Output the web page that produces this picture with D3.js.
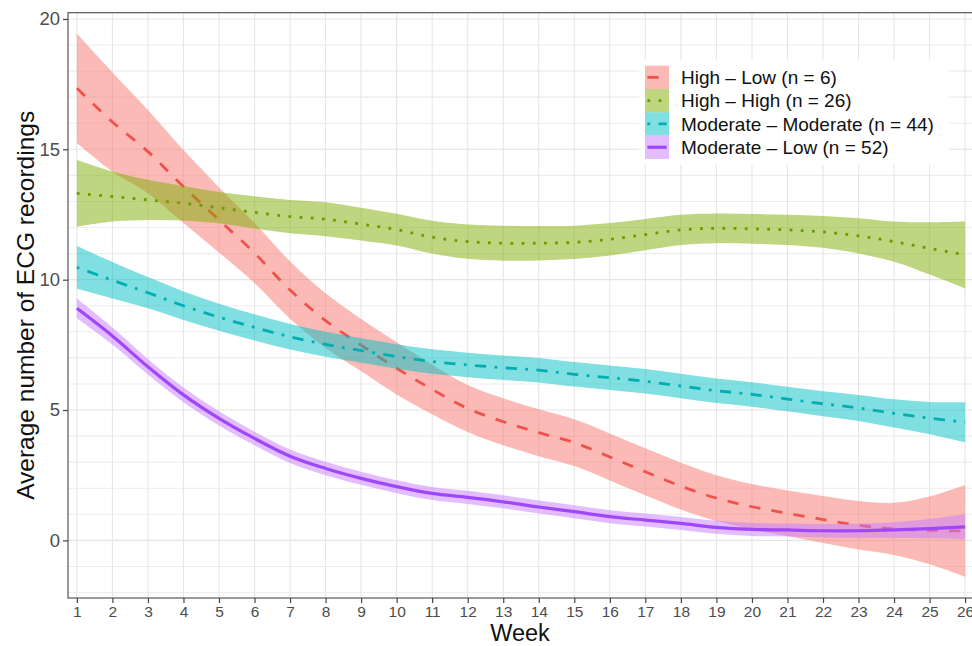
<!DOCTYPE html>
<html>
<head>
<meta charset="utf-8">
<script src="https://cdn.jsdelivr.net/npm/d3@7"></script>
<style>
  body { margin: 0; background: #fff; }
  svg { display: block; font-family: "Liberation Sans", Arial, sans-serif; }
</style>
</head>
<body>
<div class="chart"></div>
<script>
// Data
const weeks = d3.range(1, 27);
const groups = ["High – Low (n = 6)", "High – High (n = 26)", "Moderate – Moderate (n = 44)", "Moderate – Low (n = 52)"];

const highLow = [17.34, 16.05, 14.91, 13.57, 12.29, 11.02, 9.6, 8.43, 7.49, 6.6, 5.79, 5.06, 4.55,
  4.13, 3.75, 3.2, 2.63, 2.08, 1.62, 1.29, 1.04, 0.8, 0.58, 0.44, 0.38, 0.36];
const highLowCi = [2.1, 1.9, 1.6, 1.4, 1.25, 1.15, 1.1, 1.05, 1.0, 1.0, 0.95, 0.9, 0.9,
  0.9, 0.9, 0.9, 0.9, 0.9, 0.88, 0.87, 0.87, 0.9, 0.93, 1.0, 1.3, 1.76];

const highHigh = [13.31, 13.19, 13.06, 12.93, 12.76, 12.58, 12.42, 12.32, 12.13, 11.92, 11.63, 11.46, 11.4,
  11.4, 11.43, 11.55, 11.73, 11.91, 11.97, 11.95, 11.91, 11.83, 11.68, 11.46, 11.2, 10.95];
const highHighCi = [1.28, 0.96, 0.77, 0.66, 0.6, 0.62, 0.64, 0.65, 0.63, 0.61, 0.63, 0.66, 0.67,
  0.66, 0.64, 0.62, 0.6, 0.58, 0.57, 0.57, 0.58, 0.61, 0.68, 0.77, 1.0, 1.28];

const modMod = [10.47, 9.98, 9.5, 9.0, 8.56, 8.17, 7.81, 7.52, 7.28, 7.05, 6.86, 6.73, 6.62,
  6.53, 6.37, 6.24, 6.1, 5.92, 5.74, 5.6, 5.42, 5.24, 5.08, 4.87, 4.69, 4.53];
const modModCi = [0.82, 0.7, 0.6, 0.55, 0.52, 0.5, 0.49, 0.48, 0.47, 0.47, 0.47, 0.47, 0.47,
  0.47, 0.47, 0.47, 0.47, 0.47, 0.47, 0.47, 0.47, 0.48, 0.5, 0.54, 0.62, 0.77];

const modLow = [8.9, 7.84, 6.66, 5.58, 4.68, 3.91, 3.23, 2.76, 2.38, 2.06, 1.8, 1.65, 1.48,
  1.28, 1.1, 0.91, 0.78, 0.65, 0.5, 0.42, 0.4, 0.37, 0.37, 0.4, 0.45, 0.52];
const modLowCi = [0.38, 0.33, 0.3, 0.28, 0.27, 0.26, 0.26, 0.26, 0.25, 0.25, 0.25, 0.25, 0.25,
  0.25, 0.25, 0.25, 0.25, 0.25, 0.25, 0.25, 0.25, 0.26, 0.27, 0.3, 0.37, 0.48];

const yTicks = [0, 5, 10, 15, 20];

// Styling
const fills = ["#F8766D", "#7CAE00", "#00BFC4", "#C77CFF"];
const strokes = ["#F0524B", "#6A9C00", "#00AEB3", "#9F47FA"];
const lwd = 2.8;
const dashes = [`${4 * lwd},${4 * lwd}`, `${lwd},${3 * lwd}`, `${lwd},${3 * lwd},${4 * lwd},${3 * lwd}`, null];

const series = [
  {name: groups[0], mean: highLow, ci: highLowCi},
  {name: groups[1], mean: highHigh, ci: highHighCi},
  {name: groups[2], mean: modMod, ci: modModCi},
  {name: groups[3], mean: modLow, ci: modLowCi}
].map((s, i) => ({
  ...s,
  fill: fills[i],
  stroke: strokes[i],
  dash: dashes[i],
  width: i === 3 ? lwd + 0.4 : lwd,
  points: weeks.map((w, j) => ({w: w, y: s.mean[j], lo: s.mean[j] - s.ci[j], hi: s.mean[j] + s.ci[j]}))
}));

const width = 972, height = 646;
const panel = {left: 68, top: 12.7, right: 974, bottom: 598};

const svg = d3.select(".chart").append("svg")
  .attr("width", width)
  .attr("height", height);

const x = d3.scaleLinear().domain([0.75, 26.25]).range([panel.left, panel.right]);
const y = d3.scaleLinear().domain([-2.21, 20.24]).range([panel.bottom, panel.top]);

// Grid
const grid = svg.append("g");
grid.selectAll(".hgrid").data(d3.range(-2, 21))
  .enter().append("line")
  .attr("x1", panel.left).attr("x2", panel.right)
  .attr("y1", d => y(d)).attr("y2", d => y(d))
  .attr("stroke", d => d % 5 === 0 ? "#e4e4e4" : "#ededed")
  .attr("stroke-width", 1.1);
grid.selectAll(".vgrid").data(weeks)
  .enter().append("line")
  .attr("y1", panel.top).attr("y2", panel.bottom)
  .attr("x1", d => x(d)).attr("x2", d => x(d))
  .attr("stroke", "#e6e6e6")
  .attr("stroke-width", 1.1);

// Smooths: ribbon then line, per group
const area = d3.area()
  .x(d => x(d.w)).y0(d => y(d.lo)).y1(d => y(d.hi))
  .curve(d3.curveCatmullRom);
const line = d3.line()
  .x(d => x(d.w)).y(d => y(d.y))
  .curve(d3.curveCatmullRom);

const plot = svg.append("g");
series.forEach(s => {
  plot.append("path")
    .attr("d", area(s.points))
    .attr("fill", s.fill)
    .attr("fill-opacity", 0.5);
  plot.append("path")
    .attr("d", line(s.points))
    .attr("fill", "none")
    .attr("stroke", s.stroke)
    .attr("stroke-width", s.width)
    .attr("stroke-dasharray", s.dash);
});

// Panel border
svg.append("rect")
  .attr("x", panel.left).attr("y", panel.top)
  .attr("width", panel.right - panel.left).attr("height", panel.bottom - panel.top)
  .attr("fill", "none")
  .attr("stroke", "#555")
  .attr("stroke-width", 1.2);

// Axes
const xAxis = d3.axisBottom(x).tickValues(weeks).tickSize(5).tickPadding(3);
const g_xAxis = svg.append("g")
  .attr("transform", `translate(0,${panel.bottom})`)
  .call(xAxis);
g_xAxis.select(".domain").remove();
g_xAxis.selectAll(".tick line").attr("stroke", "#444").attr("stroke-width", 1.2);
g_xAxis.selectAll(".tick text").attr("fill", "#4d4d4d").style("font-size", "15.5px")
  .attr("font-family", "Liberation Sans, Arial, sans-serif");

const yAxis = d3.axisLeft(y).tickValues(yTicks).tickSize(5).tickPadding(3);
const g_yAxis = svg.append("g")
  .attr("transform", `translate(${panel.left},0)`)
  .call(yAxis);
g_yAxis.select(".domain").remove();
g_yAxis.selectAll(".tick line").attr("stroke", "#444").attr("stroke-width", 1.2);
g_yAxis.selectAll(".tick text").attr("fill", "#4d4d4d").style("font-size", "18.5px")
  .attr("font-family", "Liberation Sans, Arial, sans-serif");

svg.append("text")
  .attr("x", 520).attr("y", 641)
  .attr("text-anchor", "middle")
  .style("font-size", "23.5px")
  .attr("fill", "#111")
  .text("Week");

svg.append("text")
  .attr("transform", `translate(34,${(panel.top + panel.bottom) / 2}) rotate(-90)`)
  .attr("text-anchor", "middle")
  .style("font-size", "24.5px")
  .attr("fill", "#111")
  .text("Average number of ECG recordings");

// Legend
const key = {x: 645, y: 65.7, w: 24, h: 23.3};
const legend = svg.append("g");
legend.append("rect")
  .attr("x", key.x - 6).attr("y", key.y - 6)
  .attr("width", 310).attr("height", key.h * 4 + 12)
  .attr("fill", "#fff");

const rows = legend.selectAll(".row").data(series)
  .enter().append("g")
  .attr("transform", (d, i) => `translate(${key.x},${key.y + i * key.h})`);
rows.append("rect")
  .attr("width", key.w).attr("height", key.h)
  .attr("fill", d => d.fill)
  .attr("fill-opacity", 0.5);
rows.append("line")
  .attr("x1", key.w * 0.1).attr("x2", key.w * 0.9)
  .attr("y1", key.h / 2).attr("y2", key.h / 2)
  .attr("stroke", d => d.stroke)
  .attr("stroke-width", d => d.width)
  .attr("stroke-dasharray", d => d.dash);
rows.append("text")
  .attr("x", 36).attr("y", key.h / 2)
  .attr("dy", "0.35em")
  .style("font-size", "19px")
  .attr("fill", "#111")
  .text(d => d.name);
</script>
</body>
</html>
